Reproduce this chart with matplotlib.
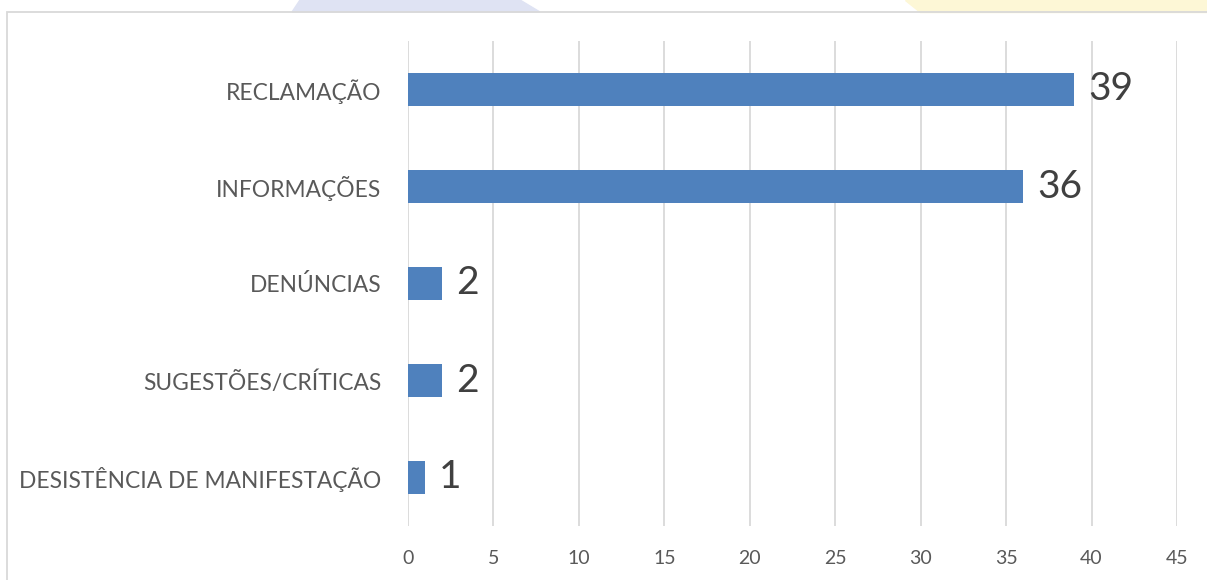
import matplotlib.pyplot as plt
from matplotlib.patches import Rectangle, Polygon

categorias = ["RECLAMAÇÃO", "INFORMAÇÕES", "DENÚNCIAS", "SUGESTÕES/CRÍTICAS",
              "DESISTÊNCIA DE MANIFESTAÇÃO"]
valores = [39, 36, 2, 2, 1]
ticks_x = [0, 5, 10, 15, 20, 25, 30, 35, 40, 45]

plt.rcParams["font.family"] = ["Lato", "DejaVu Sans"]

fig = plt.figure(figsize=(12.07, 5.8), dpi=100)

# faint watermark shapes peeking above the frame
topo = 1 - 12 / 580
fig.patches.append(Polygon([(300 / 1207, 1), (520 / 1207, 1), (540 / 1207, topo), (292 / 1207, topo)],
                           closed=True, transform=fig.transFigure, color="#dfe3f3", zorder=0))
fig.patches.append(Polygon([(905 / 1207, 1), (1.0, 1), (1.0, topo), (920 / 1207, topo)],
                           closed=True, transform=fig.transFigure, color="#fdf7d6", zorder=0))
# chart frame
fig.patches.append(Rectangle((7 / 1207, -0.05), 1.1, topo + 0.05, transform=fig.transFigure,
                             fill=False, edgecolor="#d9d9d9", linewidth=1.3, zorder=1))

ax = fig.add_axes([408 / 1207, 54 / 580, (1177 - 408) / 1207, (526 - 41) / 580])
ax.set_facecolor("none")

pos = list(range(len(categorias)))
barras = ax.barh(pos, valores, height=0.35, color="#4f81bd", zorder=3)
ax.set_ylim(len(categorias) - 0.5, -0.5)
ax.set_xlim(0, 45)
ax.set_xticks(ticks_x)
ax.set_yticks(pos)
ax.set_yticklabels(categorias, fontsize=16.4, color="#595959")
ax.tick_params(axis="x", labelsize=14, colors="#595959", length=0, pad=17)
ax.tick_params(axis="y", length=0, pad=19)
ax.grid(axis="x", color="#d9d9d9", linewidth=1.3, zorder=0)
for s in ax.spines.values():
    s.set_visible(False)

for b, v in zip(barras, valores):
    ax.annotate(str(v), (b.get_width(), b.get_y() + b.get_height() / 2),
                xytext=(10, 0), textcoords="offset points", va="center", ha="left",
                fontsize=28, color="#404040")

fig.savefig("out.png", dpi=100)
